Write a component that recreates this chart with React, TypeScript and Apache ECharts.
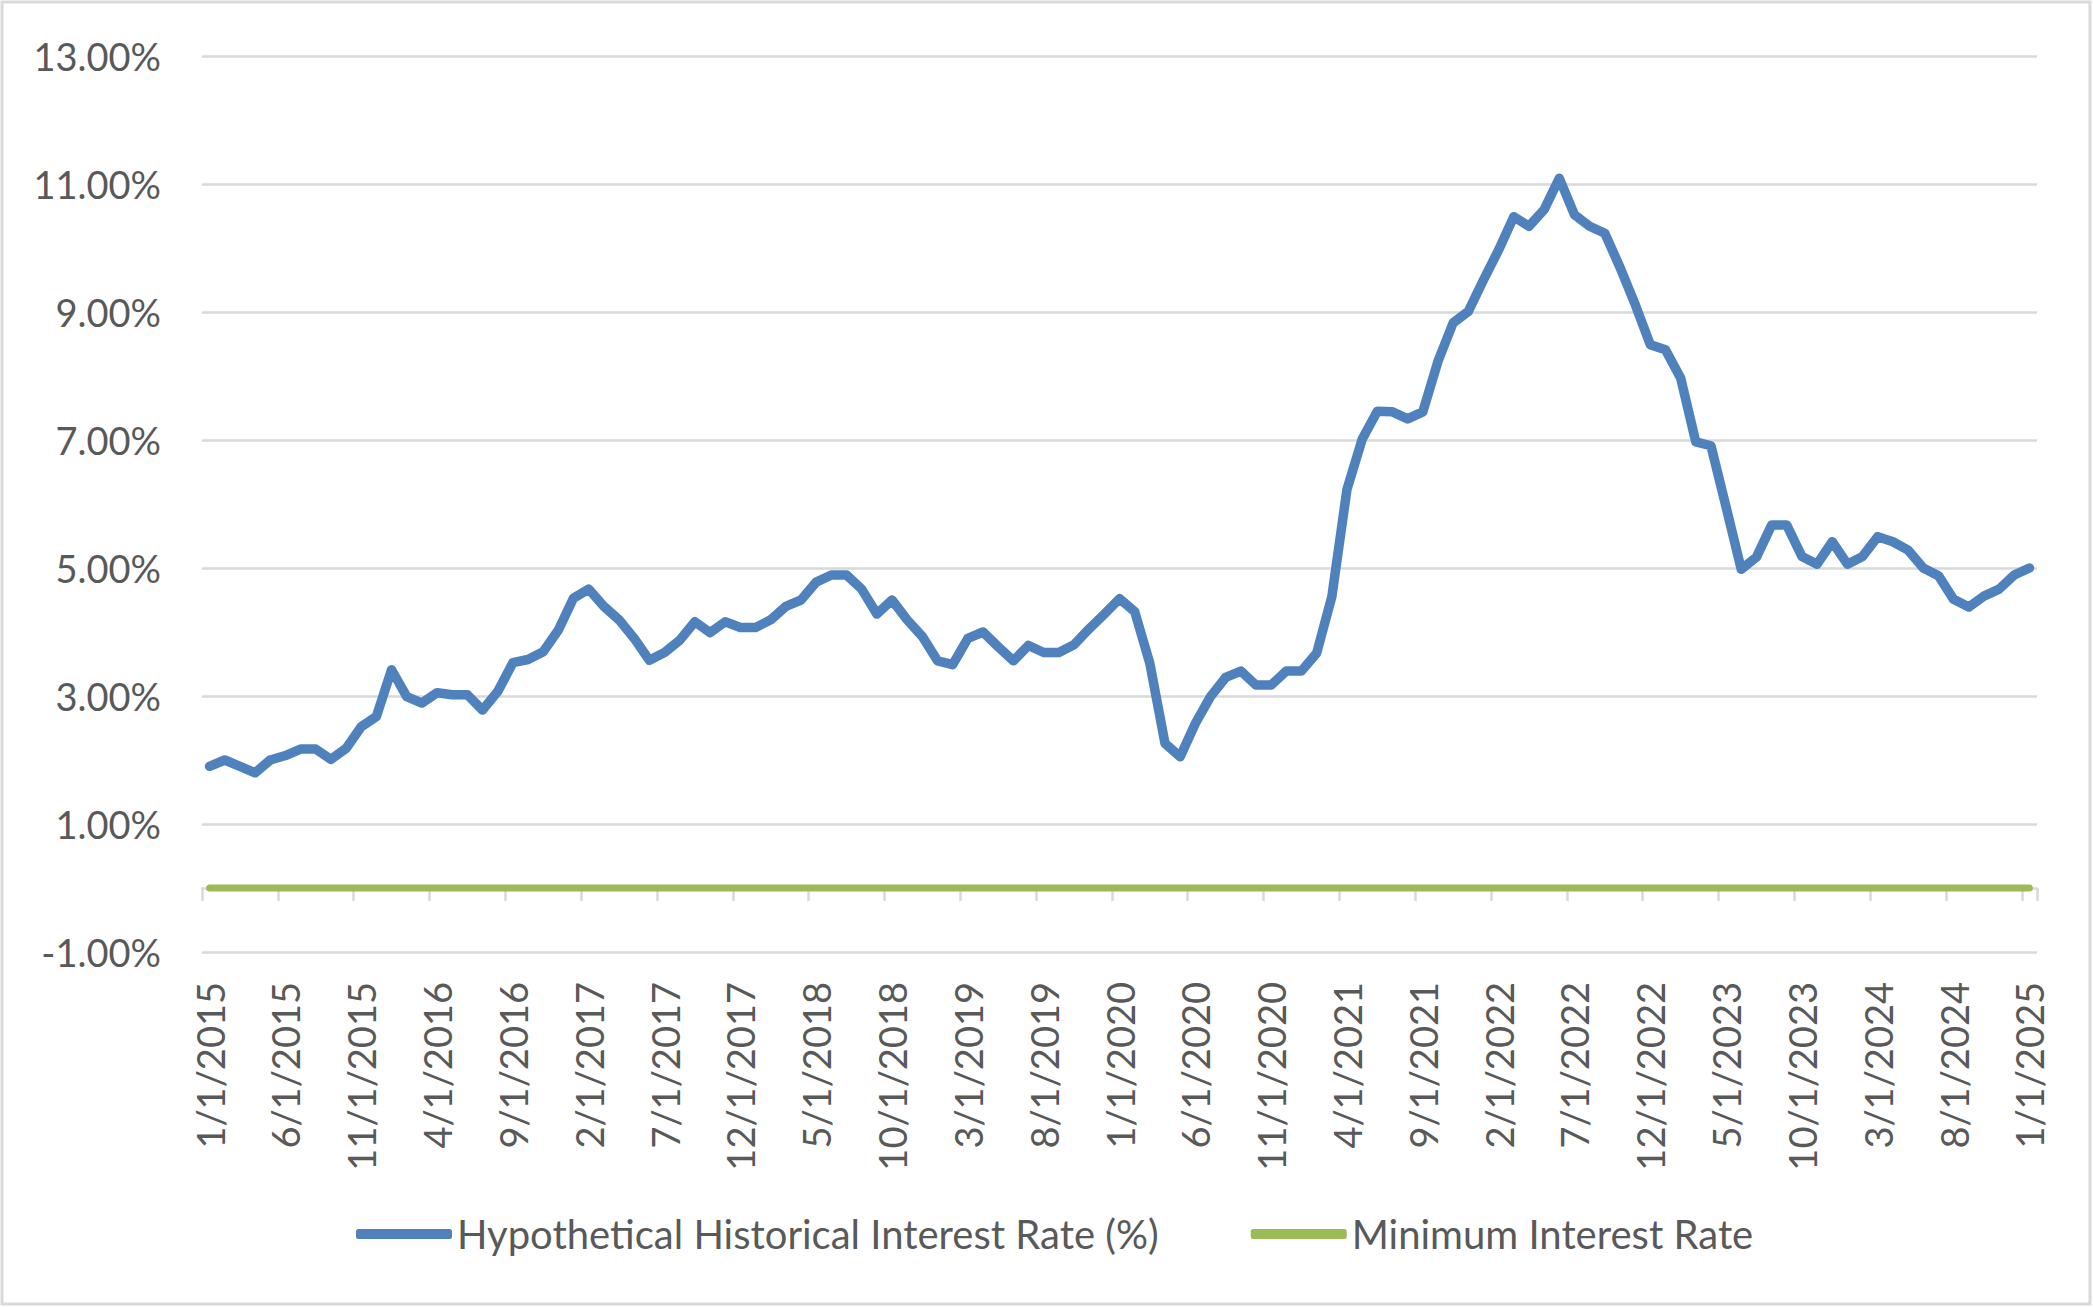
import React, { useEffect, useRef } from "react";
import * as echarts from "echarts";

const startYear = 2015;
const monthCount = 121;
const categories: string[] = [];
for (let i = 0; i < monthCount; i++) {
  const m = (i % 12) + 1;
  const y = startYear + Math.floor(i / 12);
  categories.push(`${m}/1/${y}`);
}

const rateValues = [
  1.9, 2.0, 1.9, 1.8, 2.0, 2.07, 2.17, 2.17, 2.01, 2.18, 2.52, 2.68,
  3.41, 2.99, 2.89, 3.05, 3.02, 3.02, 2.78, 3.07, 3.52, 3.57, 3.69, 4.03,
  4.53, 4.67, 4.4, 4.19, 3.9, 3.56, 3.68, 3.87, 4.16, 3.99, 4.16, 4.07,
  4.07, 4.19, 4.4, 4.5, 4.78, 4.89, 4.89, 4.67, 4.28, 4.5, 4.19, 3.93,
  3.55, 3.49, 3.9, 4.0, 3.77, 3.55, 3.79, 3.68, 3.68, 3.8, 4.05, 4.28,
  4.52, 4.32, 3.51, 2.26, 2.05, 2.57, 2.99, 3.29, 3.39, 3.17, 3.17, 3.39,
  3.39, 3.67, 4.55, 6.23, 7.01, 7.45, 7.44, 7.33, 7.44, 8.23, 8.83, 9.01,
  9.5, 9.97, 10.49, 10.34, 10.6, 11.09, 10.52, 10.34, 10.23, 9.7, 9.12, 8.49,
  8.41, 7.97, 6.97, 6.91, 5.95, 4.98, 5.17, 5.67, 5.67, 5.18, 5.06, 5.41,
  5.06, 5.18, 5.49, 5.41, 5.28, 5.0, 4.88, 4.51, 4.39, 4.56, 4.67, 4.89,
  5.0,
];

const minimumValues = [
  0, 0, 0, 0, 0, 0, 0, 0, 0, 0, 0, 0, 0, 0, 0, 0, 0, 0, 0, 0, 0, 0, 0, 0,
  0, 0, 0, 0, 0, 0, 0, 0, 0, 0, 0, 0, 0, 0, 0, 0, 0, 0, 0, 0, 0, 0, 0, 0,
  0, 0, 0, 0, 0, 0, 0, 0, 0, 0, 0, 0, 0, 0, 0, 0, 0, 0, 0, 0, 0, 0, 0, 0,
  0, 0, 0, 0, 0, 0, 0, 0, 0, 0, 0, 0, 0, 0, 0, 0, 0, 0, 0, 0, 0, 0, 0, 0,
  0, 0, 0, 0, 0, 0, 0, 0, 0, 0, 0, 0, 0, 0, 0, 0, 0, 0, 0, 0, 0, 0, 0, 0,
  0,
];

const seriesNames = ["Hypothetical Historical Interest Rate (%)", "Minimum Interest Rate"];
const yTicks = { min: -1, max: 13, interval: 2 };

export default function App() {
  const ref = useRef<HTMLDivElement>(null);
  useEffect(() => {
    if (!ref.current) return;
    const chart = echarts.init(ref.current, undefined, { renderer: "svg" });
    const textColor = "#595959";
    const gridColor = "#d9d9d9";
    const font = "Lato";
    chart.setOption({
      animation: false,
      backgroundColor: "#ffffff",
      textStyle: { fontFamily: font },
      grid: { left: 202, right: 56, top: 56, bottom: 355 },
      graphic: [
        {
          type: "rect",
          shape: { x: 2, y: 2, width: 2088, height: 1302 },
          style: { fill: "none", stroke: gridColor, lineWidth: 3 },
          silent: true,
        },
        {
          type: "rect",
          shape: { x: 2033, y: 954.5, width: 10, height: 15 },
          style: { fill: "#ffffff" },
          silent: true,
          z: 100,
        },
      ],
      legend: {
        left: 351,
        top: 1209,
        itemWidth: 96,
        itemHeight: 10,
        itemGap: 92,
        textStyle: { fontSize: 40, color: textColor, fontFamily: font, lineHeight: 40 },
        data: [
          { name: seriesNames[0], icon: "roundRect" },
          { name: seriesNames[1], icon: "roundRect" },
        ],
      },
      xAxis: {
        type: "category",
        data: categories,
        boundaryGap: true,
        axisLine: { show: true, lineStyle: { color: gridColor, width: 2.5 } },
        axisTick: { show: true, interval: 4, length: 13, lineStyle: { color: gridColor, width: 2.5 } },
        axisLabel: {
          interval: 4,
          rotate: 90,
          margin: 30,
          fontSize: 38,
          color: textColor,
          fontFamily: font,
        },
        splitLine: { show: false },
      },
      yAxis: {
        type: "value",
        min: yTicks.min,
        max: yTicks.max,
        interval: yTicks.interval,
        axisLine: { show: false },
        axisTick: { show: false },
        axisLabel: {
          margin: 41,
          fontSize: 38,
          color: textColor,
          fontFamily: font,
          formatter: (v: number) => v.toFixed(2) + "%",
        },
        splitLine: { show: true, lineStyle: { color: gridColor, width: 2.5 } },
      },
      series: [
        {
          name: seriesNames[0],
          type: "line",
          data: rateValues,
          symbol: "none",
          color: "#4f81bd",
          lineStyle: { width: 9.5, color: "#4f81bd", cap: "round", join: "round" },
          z: 3,
        },
        {
          name: seriesNames[1],
          type: "line",
          data: minimumValues,
          symbol: "none",
          color: "#9bbb59",
          lineStyle: { width: 7, color: "#9bbb59", cap: "round", join: "round" },
          z: 2,
        },
      ],
    });
    return () => chart.dispose();
  }, []);
  return (
    <div
      ref={ref}
      style={{ position: "fixed", left: 0, top: 0, width: 2093, height: 1307 }}
    />
  );
}
